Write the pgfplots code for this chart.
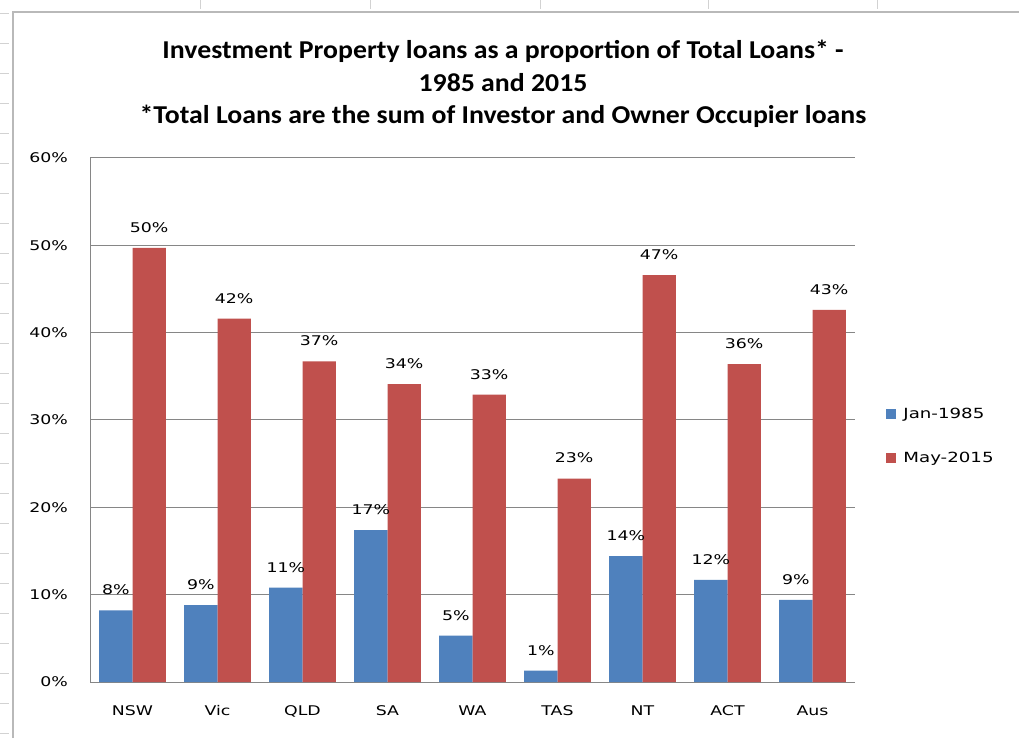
\documentclass[border=0pt]{standalone}
\usepackage{pgfplots}
\pgfplotsset{compat=1.18}
\usepackage{fontspec}
\setmainfont{Carlito}
\newfontfamily\lbl[FakeStretch=1.3]{DejaVu Sans}
\newfontfamily\ttl[FakeStretch=1.08]{Carlito}
\definecolor{jan}{HTML}{4F81BD}
\definecolor{may}{HTML}{C0504D}
\definecolor{gridc}{HTML}{868686}
\pgfplotsset{sqlegend/.style={legend image code/.code={\fill[##1,draw=none] (0pt,-3.75pt) rectangle (7.5pt,3.75pt);\path (11pt,0pt);}}}
\pgfplotstableread{
x jan may
0 8.2 49.7
1 8.8 41.6
2 10.8 36.7
3 17.4 34.1
4 5.3 32.9
5 1.3 23.3
6 14.4 46.6
7 11.7 36.4
8 9.4 42.6
}\datatable
\begin{document}
\begin{tikzpicture}[x=0.75pt,y=0.75pt]
\useasboundingbox (0,0) rectangle (1019,738);
\fill[white] (0,0) rectangle (1019,738);
\draw[gray!55,line width=0.8pt] (13,0) -- (13,726) -- (1019,726);
\foreach \xx in {200,370,540,708,877} \draw[gray!35] (\xx,738) -- (\xx,729);
\foreach \yy in {5,35,...,725} \draw[gray!35] (0,\yy) -- (9,\yy);
\node[align=center,font=\ttl\bfseries\fontsize{19.3}{24.5}\selectfont] at (503,738-84) {Investment Property loans as a proportion of Total Loans* -\\1985 and 2015\\*Total Loans are the sum of Investor and Owner Occupier loans};
\begin{axis}[
 at={(67.5pt,42pt)}, anchor=south west, scale only axis,
 width=573.75pt, height=393pt,
 ybar=0pt, bar width=25pt,
 xmin=-0.5, xmax=8.5, ymin=0, ymax=60,
 /pgf/number format/assume math mode=true,
 xtick=data, xticklabels={NSW,Vic,QLD,SA,WA,TAS,NT,ACT,Aus},
 ytick={0,10,...,60}, yticklabel={\pgfmathprintnumber{\tick}\%},
 ymajorgrids, grid style={gridc, line width=0.75pt},
 axis x line*=bottom, axis y line*=left,
 axis line style={gridc, line width=0.75pt, -},
 major tick length=0pt,
 tick label style={font=\lbl\fontsize{10}{12}\selectfont, text=black},
 yticklabel style={xshift=-13pt},
 xticklabel style={yshift=-14pt},
 nodes near coords={\pgfmathprintnumber[fixed,precision=0]{\pgfplotspointmeta}\%},
 nodes near coords style={font=\lbl\fontsize{10}{12}\selectfont, text=black, yshift=8pt},
 sqlegend,
 legend style={at={(1.035,0.534)}, anchor=north west, draw=none, fill=none,
   font=\lbl\fontsize{10.5}{12}\selectfont, row sep=20pt, legend cell align=left},
]
\addplot[fill=jan, draw=none] table[x=x,y=jan] {\datatable};
\addplot[fill=may, draw=none] table[x=x,y=may] {\datatable};
\legend{Jan-1985,May-2015}
\end{axis}
\end{tikzpicture}
\end{document}
